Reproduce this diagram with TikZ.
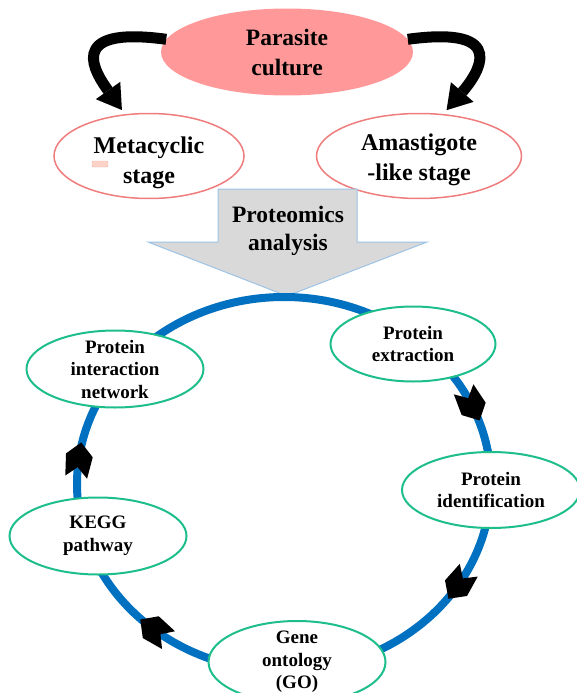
\documentclass[tikz,border=0pt]{standalone}
\usepackage{fontspec}
\setmainfont{Liberation Serif}
\usetikzlibrary{shapes.geometric,arrows.meta,decorations.markings}

\definecolor{culturepink}{RGB}{255,153,153}
\definecolor{stagered}{RGB}{240,125,125}
\definecolor{cycleblue}{RGB}{0,112,192}
\definecolor{stepgreen}{RGB}{30,190,140}
\definecolor{arrowgray}{RGB}{217,217,217}
\definecolor{arrowedge}{RGB}{157,195,230}

% chunky notched arrowhead on the cycle
\newcommand{\cyclehead}{\fill[black] (17,0) -- (4,13.5) -- (-18,11) -- (-8,0) -- (-18,-11) -- (4,-13.5) -- cycle;}
\newcommand{\lowerby}[1]{\rule{0pt}{#1}}

\tikzset{
  culturenode/.style={ellipse, fill=culturepink, minimum width=252pt, minimum height=87pt,
    inner sep=0pt, align=center, font=\fontsize{23.5}{30}\selectfont\bfseries},
  stagenode/.style={ellipse, draw=stagered, line width=1.5pt, fill=white, inner xsep=0pt,
    inner ysep=-8pt, minimum height=85pt, align=center, font=\fontsize{24}{30}\selectfont\bfseries},
  stepnode/.style={ellipse, draw=stepgreen, line width=2pt, fill=white, inner xsep=0pt,
    inner ysep=-6pt, minimum width=177pt, minimum height=77pt, align=center,
    font=\fontsize{19}{22.5}\selectfont\bfseries},
  bendarrow/.style={line width=11pt, shorten >=5pt,
    -{Triangle[length=24pt,width=30pt,line width=0pt]}},
  cycleline/.style={draw=cycleblue, line width=8pt, postaction={decorate},
    decoration={markings,
      mark=at position 0.184 with {\cyclehead},
      mark=at position 0.337 with {\cyclehead},
      mark=at position 0.612 with {\cyclehead},
      mark=at position 0.770 with {\cyclehead}}},
}

\begin{document}
\begin{tikzpicture}[x=1pt,y=1pt]
  \useasboundingbox (0,0) rectangle (577,-693);

  % top: culture and the two stages
  \node[culturenode] (parasite) at (287,-52) {Parasite\\culture};
  \node[stagenode, minimum width=190pt] (meta) at (149,-156) {\lowerby{31pt}Metacyclic\\stage};
  \node[stagenode, minimum width=205pt] (amast) at (419,-156) {\lowerby{25pt}Amastigote\\-like stage};
  \draw[draw={rgb,255:red,245;green,185;blue,175}, fill={rgb,255:red,250;green,210;blue,200},
    rounded corners=1pt] (92,-161) rectangle (108,-167);

  \draw[bendarrow] (parasite.174) .. controls (62,-25) and (97,-75) .. (meta.120);
  \draw[bendarrow] (parasite.6) .. controls (512,-25) and (477,-75) .. (amast.60);

  % big arrow
  \draw[fill=arrowgray, draw=arrowedge, line width=1pt]
    (218,-189) -- (357,-189) -- (357,-242) -- (427,-242) -- (287,-296)
    -- (148,-242) -- (218,-242) -- cycle;
  \node[align=center, font=\fontsize{23.5}{28}\selectfont\bfseries] (proteo) at (288,-231)
    {Proteomics\\analysis};

  % the cycle
  \coordinate (cen) at (284,-484);
  \draw[cycleline] (cen) ++(0,187) arc[start angle=90, end angle=-270, x radius=207, y radius=187];

  \node[stepnode, minimum width=165pt, minimum height=75pt] (extract) at (413,-344) {Protein\\extraction};
  \node[stepnode, minimum width=178pt, minimum height=76pt] (ident) at (491,-490) {Protein\\identification};
  \node[stepnode, minimum height=82pt] (gene) at (297,-662) {Gene\\ontology\\(GO)};
  \node[stepnode] (kegg) at (98,-536) {KEGG\\pathway};
  \node[stepnode] (network) at (115,-369) {Protein\\interaction\\network};
\end{tikzpicture}
\end{document}
